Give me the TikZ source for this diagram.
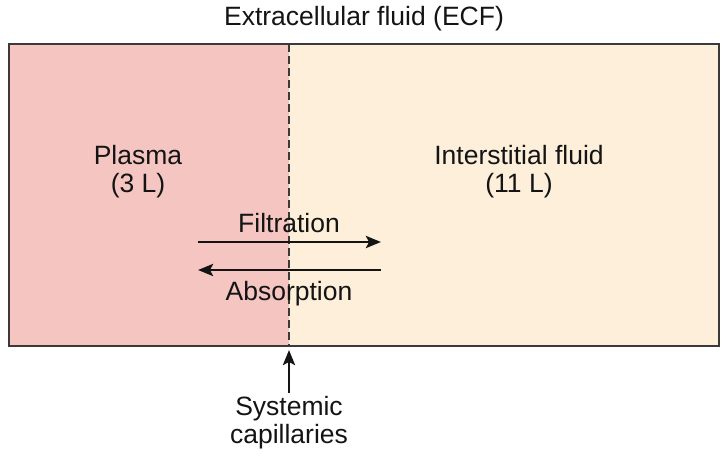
\documentclass[tikz,border=0pt]{standalone}
\usepackage{fontspec}
\setmainfont{Liberation Sans}
\usetikzlibrary{arrows.meta}
\definecolor{plasmacol}{HTML}{F4C5C1}
\definecolor{iscol}{HTML}{FDEFD9}
\definecolor{edgecol}{HTML}{3C3A38}
\begin{document}
\begin{tikzpicture}[x=1pt,y=-1pt,
  lbl/.style={font=\fontsize{26.5}{28}\selectfont, text=black!92, align=center, inner sep=0pt},
  flow/.style={line width=2.8pt, draw=black!92, -{Stealth[length=15pt,width=12pt,inset=3pt]}}]
\useasboundingbox (0,0) rectangle (724,463);
\fill[white] (0,0) rectangle (724,463);
\fill[plasmacol] (9,44) rectangle (289,346);
\fill[iscol] (289,44) rectangle (719,346);
\draw[edgecol, line width=2.8pt] (9,44) rectangle (719,346);
\coordinate (dtop) at (289,44);
\coordinate (dbot) at (289,346);
\draw[edgecol, line width=2pt, dash pattern=on 8pt off 4pt] (dtop) -- (dbot);
\node[lbl] (ecf) at (364,19) {Extracellular fluid (ECF)};
\node[lbl] (plasma) at (138,172) {Plasma\\(3 L)};
\node[lbl] (isf) at (519,172) {Interstitial fluid\\(11 L)};
\node[lbl] (filt) at (289,223) {Filtration};
\node[lbl] (abs) at (289,294) {Absorption};
\coordinate (fl) at (198,242);
\coordinate (fr) at (381,242);
\coordinate (al) at (198,270);
\coordinate (ar) at (381,270);
\draw[flow] (fl) -- (fr);
\draw[flow] (ar) -- (al);
\node[lbl] (cap) at (289,423) {Systemic\\capillaries};
\coordinate (capt) at (289,350);
\coordinate (capb) at (289,393);
\draw[flow] (capb) -- (capt);
\end{tikzpicture}
\end{document}
